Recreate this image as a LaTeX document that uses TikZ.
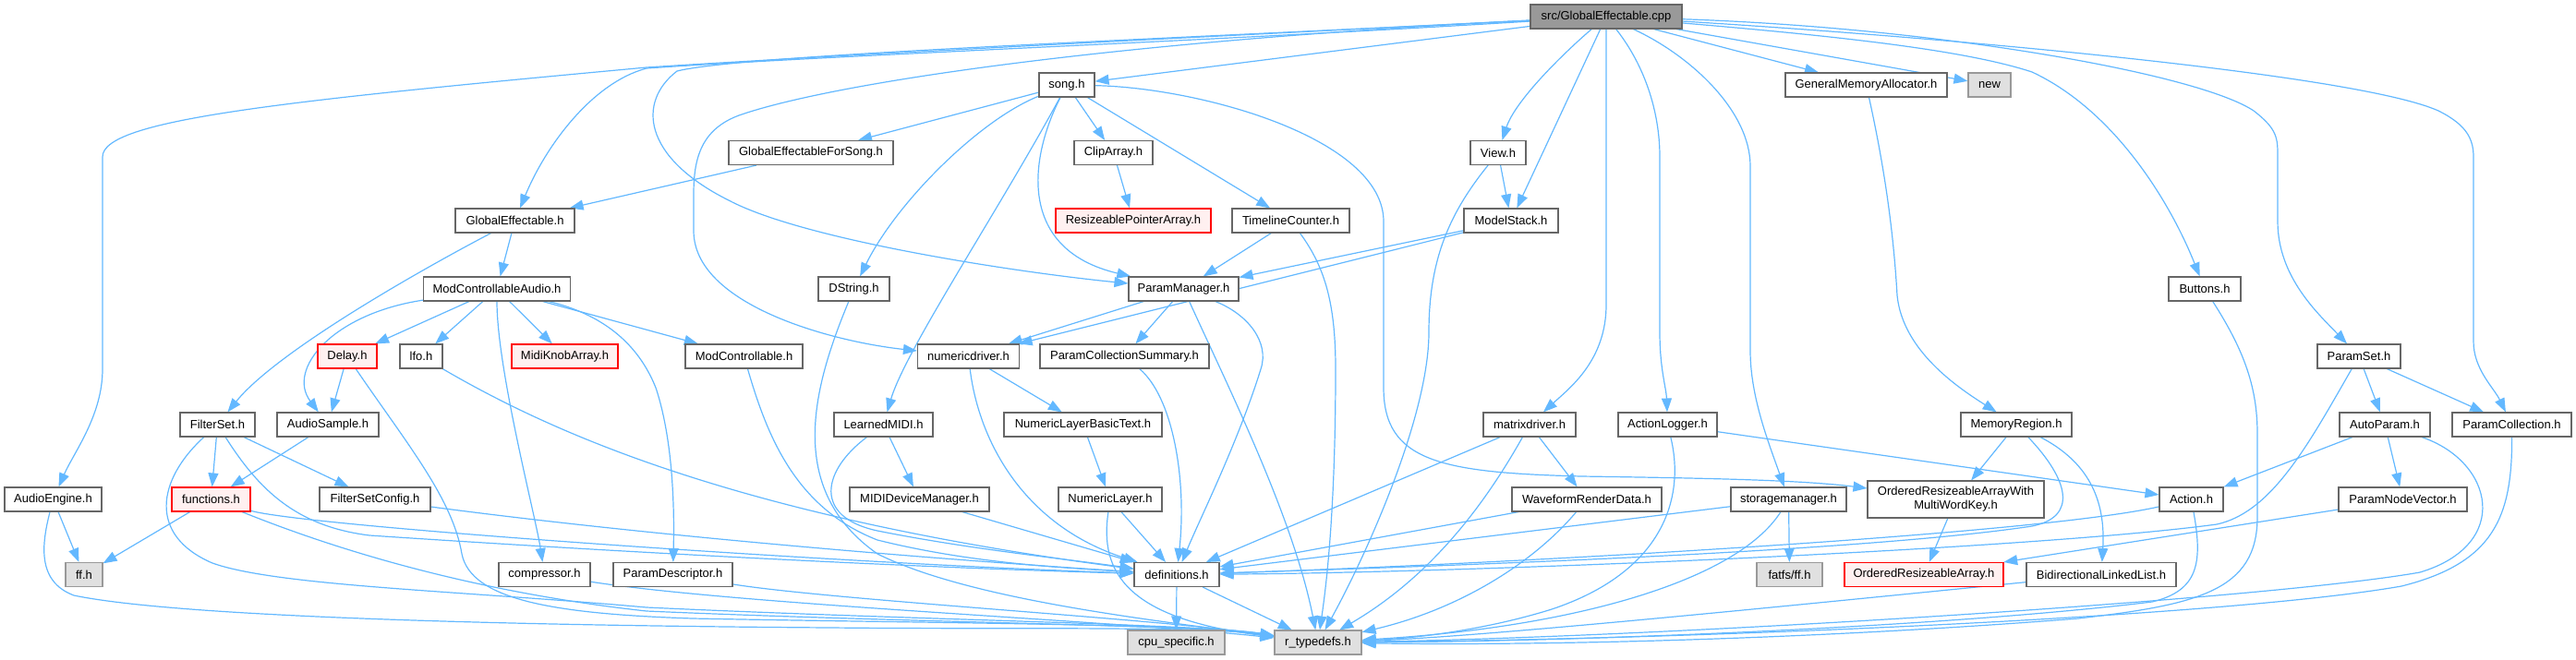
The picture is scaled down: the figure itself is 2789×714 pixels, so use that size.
\documentclass[tikz,border=0pt]{standalone}
\usepackage{fontspec}
\setmainfont{Liberation Sans}
\usetikzlibrary{arrows.meta,backgrounds}
\definecolor{edgeblue}{HTML}{63B8FF}
\definecolor{boxgray}{HTML}{666666}
\definecolor{rootfill}{HTML}{999999}
\definecolor{extfill}{HTML}{E0E0E0}
\definecolor{extborder}{HTML}{999999}
\definecolor{redfill}{HTML}{FFF0F0}
\definecolor{redborder}{HTML}{FF0000}
\tikzset{
  box/.style={draw=boxgray, fill=white, line width=0.55pt, minimum height=13pt, inner sep=0pt, font=\fontsize{6.5}{7.5}\selectfont},
  rootbox/.style={box, fill=rootfill},
  extbox/.style={box, draw=extborder, fill=extfill},
  redbox/.style={box, draw=redborder, fill=redfill},
  wd/.style={minimum width=#1*0.5pt},
  edge/.style={draw=edgeblue, line width=0.6pt, -{Triangle[length=7.5pt,width=5.5pt]}}
}
\begin{document}
\begin{tikzpicture}[x=0.5pt,y=-0.5pt]
\useasboundingbox (0,0) rectangle (2789,714);
\node[rootbox, wd=164] (root) at (1739,18) {src/GlobalEffectable.cpp};
\node[box, wd=60] (song) at (1155,92) {song.h};
\node[box, wd=175] (gma) at (2020.5,92) {GeneralMemoryAllocator.h};
\node[extbox, wd=46] (new) at (2154,92) {new};
\node[box, wd=178] (gefs) at (878,165.5) {GlobalEffectableForSong.h};
\node[box, wd=85] (cliparray) at (1205.5,165.5) {ClipArray.h};
\node[box, wd=60] (view) at (1622,165.5) {View.h};
\node[box, wd=129] (ge) at (557.5,239) {GlobalEffectable.h};
\node[redbox, wd=168] (rpa) at (1227,239) {ResizeablePointerArray.h};
\node[box, wd=127] (tc) at (1397.5,239) {TimelineCounter.h};
\node[box, wd=102] (ms) at (1636,239) {ModelStack.h};
\node[box, wd=159] (mca) at (538,313) {ModControllableAudio.h};
\node[box, wd=77] (dstring) at (924.5,313) {DString.h};
\node[box, wd=119] (pm) at (1281.5,313) {ParamManager.h};
\node[box, wd=78] (buttons) at (2387,313) {Buttons.h};
\node[redbox, wd=64] (delay) at (376,386) {Delay.h};
\node[box, wd=46] (lfo) at (456,386) {lfo.h};
\node[redbox, wd=115] (mka) at (611.5,386) {MidiKnobArray.h};
\node[box, wd=127] (mc) at (805.5,386) {ModControllable.h};
\node[box, wd=110] (nd) at (1048.5,386) {numericdriver.h};
\node[box, wd=183] (pcs) at (1217.5,386) {ParamCollectionSummary.h};
\node[box, wd=90] (paramset) at (2554,386) {ParamSet.h};
\node[box, wd=81] (filterset) at (235.5,460) {FilterSet.h};
\node[box, wd=110] (audiosample) at (355,460) {AudioSample.h};
\node[box, wd=107] (learnedmidi) at (956.5,460) {LearnedMIDI.h};
\node[box, wd=171] (nlbt) at (1172.5,460) {NumericLayerBasicText.h};
\node[box, wd=100] (matrixdriver) at (1656,460) {matrixdriver.h};
\node[box, wd=107] (actionlogger) at (1805.5,460) {ActionLogger.h};
\node[box, wd=120] (memregion) at (2183,460) {MemoryRegion.h};
\node[box, wd=98] (autoparam) at (2582,460) {AutoParam.h};
\node[box, wd=129] (paramcoll) at (2719.5,460) {ParamCollection.h};
\node[box, wd=105] (audioengine) at (57.5,541) {AudioEngine.h};
\node[redbox, wd=85] (functions) at (228.5,541) {functions.h};
\node[box, wd=120] (fsc) at (406,541) {FilterSetConfig.h};
\node[box, wd=151] (mididm) at (995.5,541) {MIDIDeviceManager.h};
\node[box, wd=112] (numlayer) at (1202,541) {NumericLayer.h};
\node[box, wd=162] (wrd) at (1718,541) {WaveformRenderData.h};
\node[box, wd=125] (storage) at (1936.5,541) {storagemanager.h};
\node[box, wd=191, minimum height=20pt, align=center] (orawmwk) at (2117.5,541) {OrderedResizeableArrayWith\\MultiWordKey.h};
\node[box, wd=69] (action) at (2372.5,541) {Action.h};
\node[box, wd=139] (pnv) at (2601.5,541) {ParamNodeVector.h};
\node[extbox, wd=40] (ff) at (91,622.5) {ff.h};
\node[box, wd=99] (compressor) at (589.5,622.5) {compressor.h};
\node[box, wd=129] (paramdesc) at (728.5,622.5) {ParamDescriptor.h};
\node[box, wd=92] (definitions) at (1274,622.5) {definitions.h};
\node[extbox, wd=71] (fatfs) at (1937.5,622.5) {fatfs/ff.h};
\node[redbox, wd=172] (ora) at (2083,622.5) {OrderedResizeableArray.h};
\node[box, wd=162] (bll) at (2275,622.5) {BidirectionalLinkedList.h};
\node[extbox, wd=105] (cpu) at (1273.5,696) {cpu\_specific.h};
\node[extbox, wd=94] (rtypedefs) at (1427,696) {r\_typedefs.h};

\begin{pgfonlayer}{background}
% root edges
\draw[edge] (root) .. controls (1300,40) and (900,60) .. (700,73) .. controls (300,110) and (111,130) .. (111,170) -- (111,400) .. controls (111,450) and (80,490) .. (audioengine);
\draw[edge] (root) .. controls (1300,45) and (900,60) .. (700,74) .. controls (640,90) and (590,160) .. (ge);
\draw[edge] (root) -- (song);
\draw[edge] (root) .. controls (1200,45) and (800,60) .. (733,77) .. controls (690,110) and (695,170) .. (789,217) .. controls (870,260) and (1100,295) .. (pm);
\draw[edge] (root) .. controls (1200,45) and (900,90) .. (800,125) .. controls (760,140) and (751,170) .. (751,210) -- (751,250) .. controls (751,330) and (900,370) .. (nd);
\draw[edge] (root) .. controls (1690,60) and (1640,110) .. (view);
\draw[edge] (root) -- (ms);
\draw[edge] (root.south) -- (1739,330) .. controls (1739,390) and (1700,420) .. (matrixdriver);
\draw[edge] (root) .. controls (1780,70) and (1797,120) .. (1797,170) -- (1797,360) .. controls (1797,400) and (1804,420) .. (actionlogger);
\draw[edge] (root) .. controls (1830,60) and (1895,120) .. (1895,180) -- (1895,380) .. controls (1895,430) and (1915,480) .. (storage);
\draw[edge] (root) -- (gma);
\draw[edge] (root) -- (new);
\draw[edge] (root) .. controls (2000,40) and (2130,55) .. (2200,78) .. controls (2290,120) and (2350,220) .. (buttons);
\draw[edge] (root) .. controls (2100,30) and (2380,80) .. (2440,120) .. controls (2466,140) and (2466,150) .. (2466,170) -- (2466,240) .. controls (2466,300) and (2510,340) .. (paramset);
\draw[edge] (root) .. controls (2100,40) and (2550,80) .. (2640,120) .. controls (2670,135) and (2678,150) .. (2678,170) -- (2678,370) .. controls (2678,400) and (2700,420) .. (paramcoll);
% song.h
\draw[edge] (song) -- (gefs);
\draw[edge] (song) -- (cliparray);
\draw[edge] (song) -- (tc);
\draw[edge] (song) .. controls (1060,130) and (970,220) .. (dstring);
\draw[edge] (song) .. controls (1080,230) and (980,380) .. (learnedmidi);
\draw[edge] (song) .. controls (1115,170) and (1100,270) .. (pm);
\draw[edge] (song) .. controls (1300,95) and (1498,150) .. (1498,240) -- (1498,420) .. controls (1498,500) and (1560,512) .. (1712,516) .. controls (1850,518) and (1950,520) .. (orawmwk);
\draw[edge] (gefs) -- (ge);
\draw[edge] (cliparray) -- (rpa);
\draw[edge] (tc) -- (pm);
\draw[edge] (tc) .. controls (1435,290) and (1446,330) .. (1446,400) .. controls (1446,560) and (1435,640) .. (rtypedefs);
\draw[edge] (dstring) .. controls (880,420) and (850,530) .. (950,600) .. controls (1050,650) and (1250,672) .. (rtypedefs);
\draw[edge] (view) -- (ms);
\draw[edge] (view) .. controls (1570,230) and (1547,280) .. (1547,360) .. controls (1547,450) and (1480,600) .. (rtypedefs);
\draw[edge] (ms) -- (pm);
\draw[edge] (ms) -- (nd);
\draw[edge] (gma) .. controls (2040,180) and (2050,250) .. (2054,320) .. controls (2060,380) and (2120,420) .. (memregion);
\draw[edge] (buttons) .. controls (2430,380) and (2444,420) .. (2444,470) -- (2444,560) .. controls (2444,640) and (2380,655) .. (2250,670) .. controls (2000,690) and (1700,700) .. (rtypedefs);
% ParamManager
\draw[edge] (pm) -- (nd);
\draw[edge] (pm) -- (pcs);
\draw[edge] (pm) .. controls (1330,420) and (1400,560) .. (rtypedefs);
\draw[edge] (pm) .. controls (1350,340) and (1375,370) .. (1365,400) .. controls (1340,480) and (1300,560) .. (definitions);
% GlobalEffectable / ModControllableAudio
\draw[edge] (ge) -- (mca);
\draw[edge] (ge) .. controls (460,290) and (300,380) .. (filterset);
\draw[edge] (mca) -- (delay);
\draw[edge] (mca) -- (lfo);
\draw[edge] (mca) -- (mka);
\draw[edge] (mca) .. controls (360,340) and (310,400) .. (audiosample);
\draw[edge] (mca) -- (mc);
\draw[edge] (mca) .. controls (538,400) and (580,560) .. (compressor);
\draw[edge] (mca) .. controls (650,340) and (690,370) .. (710,420) .. controls (730,480) and (730,560) .. (paramdesc);
\draw[edge] (delay) -- (audiosample);
\draw[edge] (delay) .. controls (440,480) and (490,540) .. (500,600) .. controls (510,650) and (600,665) .. (750,670) .. controls (1000,675) and (1300,676) .. (rtypedefs);
\draw[edge] (lfo) .. controls (600,470) and (800,560) .. (definitions);
\draw[edge] (mc) .. controls (830,470) and (860,550) .. (950,585) .. controls (1050,610) and (1150,615) .. (definitions);
% FilterSet etc
\draw[edge] (filterset) -- (functions);
\draw[edge] (filterset) -- (fsc);
\draw[edge] (filterset) .. controls (280,530) and (320,570) .. (400,580) .. controls (700,600) and (1000,615) .. (definitions);
\draw[edge] (filterset) .. controls (170,520) and (160,580) .. (230,610) .. controls (300,635) and (500,640) .. (700,658) .. controls (1000,672) and (1300,676) .. (rtypedefs);
\draw[edge] (audiosample) -- (functions);
\draw[edge] (audioengine) -- (ff);
\draw[edge] (audioengine) .. controls (45,590) and (40,630) .. (80,645) .. controls (200,670) and (600,678) .. (900,680) .. controls (1100,682) and (1300,678) .. (rtypedefs);
\draw[edge] (functions) -- (ff);
\draw[edge] (functions) .. controls (330,570) and (900,610) .. (definitions);
\draw[edge] (functions) .. controls (350,590) and (500,640) .. (700,662) .. controls (1000,675) and (1300,677) .. (rtypedefs);
\draw[edge] (fsc) .. controls (700,580) and (1000,605) .. (definitions);
\draw[edge] (compressor) .. controls (800,655) and (1200,672) .. (rtypedefs);
\draw[edge] (paramdesc) .. controls (900,650) and (1250,670) .. (rtypedefs);
% MIDI / numeric
\draw[edge] (learnedmidi) -- (mididm);
\draw[edge] (learnedmidi) .. controls (890,510) and (880,560) .. (950,575) .. controls (1050,595) and (1150,605) .. (definitions);
\draw[edge] (mididm) -- (definitions);
\draw[edge] (nd) -- (nlbt);
\draw[edge] (nd) .. controls (1060,480) and (1110,570) .. (definitions);
\draw[edge] (nlbt) -- (numlayer);
\draw[edge] (numlayer) -- (definitions);
\draw[edge] (numlayer) .. controls (1190,620) and (1220,670) .. (rtypedefs);
\draw[edge] (pcs) .. controls (1270,430) and (1285,520) .. (definitions);
\draw[edge] (definitions) -- (cpu);
\draw[edge] (definitions) -- (rtypedefs);
% right part
\draw[edge] (matrixdriver) -- (definitions);
\draw[edge] (matrixdriver) .. controls (1600,560) and (1540,630) .. (rtypedefs);
\draw[edge] (matrixdriver) -- (wrd);
\draw[edge] (wrd) -- (definitions);
\draw[edge] (wrd) .. controls (1660,610) and (1580,660) .. (rtypedefs);
\draw[edge] (actionlogger) .. controls (1825,540) and (1800,620) .. (1680,660) .. controls (1600,685) and (1520,692) .. (rtypedefs);
\draw[edge] (actionlogger) -- (action);
\draw[edge] (storage) -- (definitions);
\draw[edge] (storage) -- (fatfs);
\draw[edge] (storage) .. controls (1880,630) and (1700,680) .. (rtypedefs);
\draw[edge] (orawmwk) -- (ora);
\draw[edge] (memregion) -- (orawmwk);
\draw[edge] (memregion) .. controls (2260,500) and (2280,540) .. (bll);
\draw[edge] (memregion) .. controls (2240,520) and (2250,560) .. (2200,570) .. controls (2000,600) and (1500,615) .. (definitions);
\draw[edge] (bll) .. controls (1900,660) and (1600,690) .. (rtypedefs);
\draw[edge] (action) .. controls (2200,580) and (1600,612) .. (definitions);
\draw[edge] (action) .. controls (2385,610) and (2380,640) .. (2330,652) .. controls (2100,680) and (1700,695) .. (rtypedefs);
\draw[edge] (paramset) -- (autoparam);
\draw[edge] (paramset) -- (paramcoll);
\draw[edge] (paramset) .. controls (2500,480) and (2460,555) .. (2400,568) .. controls (2200,595) and (1600,620) .. (definitions);
\draw[edge] (autoparam) -- (action);
\draw[edge] (autoparam) -- (pnv);
\draw[edge] (autoparam) .. controls (2700,500) and (2720,590) .. (2620,620) .. controls (2450,650) and (1800,690) .. (rtypedefs);
\draw[edge] (pnv) -- (ora);
\draw[edge] (paramcoll) .. controls (2720,560) and (2700,610) .. (2600,635) .. controls (2400,670) and (1800,693) .. (rtypedefs);
\end{pgfonlayer}
\end{tikzpicture}
\end{document}
